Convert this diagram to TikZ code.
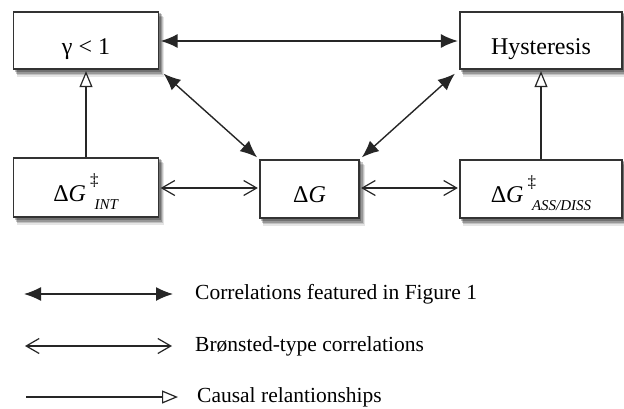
\documentclass[tikz,border=0pt]{standalone}
\usepackage{fontspec}
\setmainfont{Liberation Serif}
\usetikzlibrary{arrows.meta,backgrounds}
\newcommand{\ddsub}[1]{Δ\textit{G}\kern4pt\raisebox{15.5pt}{\fontsize{17}{17}\selectfont ‡}\kern-4pt\raisebox{-8pt}{\fontsize{15}{15}\selectfont\textit{#1}}}
\begin{document}
\begin{tikzpicture}[x=1pt,y=-1pt,
  box/.style={draw=black!80, line width=1.3pt, fill=white, inner sep=0pt,
    font=\fontsize{24}{26}\selectfont, text height=27pt, text depth=0pt},
  shad/.style={fill=black, fill opacity=#1, draw=none},
  link/.style={line width=1.4pt, draw=black!85},
  corr/.style={link, {Latex[length=17pt,width=14pt]}-{Latex[length=17pt,width=14pt]}},
  bron/.style={link, {Straight Barb[length=13pt,width=15pt,line width=1.2pt]}-{Straight Barb[length=13pt,width=15pt,line width=1.2pt]}},
  caus/.style={link, -{Triangle[open,length=16pt,width=13pt,fill=white,line width=1.2pt]}},
  legtext/.style={anchor=west, inner sep=0pt, font=\fontsize{21.5}{24}\selectfont}]
\useasboundingbox (0,0) rectangle (624,408);

\node[box, minimum width=145pt, minimum height=57pt] (gam) at (86,40.5) {γ < 1};
\node[box, minimum width=162pt, minimum height=57pt] (hys) at (541,40.5) {Hysteresis};
\node[box, minimum width=145pt, minimum height=59pt] (int) at (86,187.5) {\ddsub{INT}};
\node[box, minimum width=99pt, minimum height=58pt] (dg) at (309.5,189) {Δ\textit{G}};
\node[box, minimum width=162pt, minimum height=58pt] (ass) at (541,189) {\ddsub{ASS/DISS}};

\begin{scope}[on background layer]
  \fill[white] (0,0) rectangle (624,408);
  \foreach \n in {gam,hys,int,dg,ass}{
    \fill[shad=0.10] ([xshift=-1pt,yshift=0pt]\n.north west) ++(5,6) rectangle ([xshift=5pt,yshift=-7pt]\n.south east);
    \fill[shad=0.15] ([xshift=0pt]\n.north west) ++(4,4.5) rectangle ([xshift=4pt,yshift=-5.5pt]\n.south east);
    \fill[shad=0.22] (\n.north west) ++(3,3) rectangle ([xshift=3pt,yshift=-4pt]\n.south east);
    \fill[shad=0.25] (\n.north west) ++(2,2) rectangle ([xshift=1.5pt,yshift=-2.5pt]\n.south east);
  }
\end{scope}

\draw[corr, shorten <=1.5pt, shorten >=1.5pt] (gam.east |- 0,41) -- (hys.west |- 0,41);
\draw[corr, shorten <=6pt, shorten >=3pt] (gam.south east) -- (dg.north west);
\draw[corr, shorten <=6pt, shorten >=3pt] (hys.south west) -- (dg.north east);
\draw[bron, shorten <=1.5pt, shorten >=1.5pt] (int.east |- 0,188) -- (dg.west |- 0,188);
\draw[bron, shorten <=1.5pt, shorten >=1.5pt] (dg.east |- 0,188) -- (ass.west |- 0,188);
\draw[caus, shorten >=1.5pt] (int.north) -- (gam.south);
\draw[caus, shorten >=1.5pt] (ass.north) -- (hys.south);

\coordinate (l1a) at (24,294); \coordinate (l1b) at (173,294);
\coordinate (l2a) at (25,346); \coordinate (l2b) at (172,346);
\coordinate (l3a) at (26,397); \coordinate (l3b) at (178,397);
\draw[corr] (l1a) -- (l1b);
\draw[bron] (l2a) -- (l2b);
\draw[caus] (l3a) -- (l3b);
\node[legtext] (t1) at (195,294) {Correlations featured in Figure 1};
\node[legtext] (t2) at (195,346) {Brønsted-type correlations};
\node[legtext] (t3) at (197,397) {Causal relantionships};
\end{tikzpicture}
\end{document}
